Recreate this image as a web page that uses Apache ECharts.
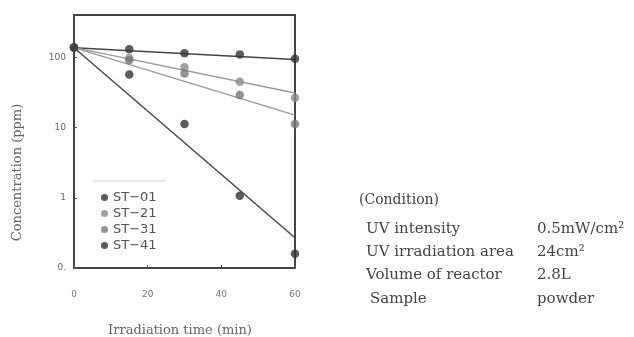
<!DOCTYPE html>
<html>
<head>
<meta charset="utf-8">
<script src="https://cdn.jsdelivr.net/npm/echarts@6/dist/echarts.min.js"></script>
<style>
  html, body { margin: 0; padding: 0; background: #fff; }
  #chart { width: 634px; height: 337px; }
</style>
</head>
<body>
<div id="chart"></div>
<script>
// measured points (ppm) at each irradiation time (min)
const times = [0, 15, 30, 45, 60];
const st01 = [138, 130, 114, 110, 95];
const st21 = [138, 98, 72, 45, 26.5];
const st31 = [138, 91, 59, 29, 11.2];
const st41 = [138, 57, 11.2, 1.07, 0.16];

// fitted lines, start and end
const fitTimes = [0, 60];
const fit01 = [137, 93];
const fit21 = [137, 31];
const fit31 = [137, 15];
const fit41 = [137, 0.27];

const seriesNames = ["ST\u221201", "ST\u221221", "ST\u221231", "ST\u221241"];

const conditionRows = [
  ["UV intensity", "0.5mW/cm\u00b2"],
  ["UV irradiation area", "24cm\u00b2"],
  ["Volume of reactor", "2.8L"],
  ["Sample", "powder"],
];

const pair = (xs, ys) => xs.map((x, i) => [x, ys[i]]);

const dotColors = ["#333", "#8a8a8a", "#777", "#333"];
const lineColors = ["#444", "#9a9a9a", "#9a9a9a", "#444"];
const measured = [st01, st21, st31, st41];
const fits = [fit01, fit21, fit31, fit41];

const chart = echarts.init(document.getElementById("chart"));

const series = [];
fits.forEach((f, i) => {
  series.push({
    type: "line",
    data: pair(fitTimes, f),
    showSymbol: false,
    silent: true,
    lineStyle: { color: lineColors[i], width: 1.4 },
    z: 2,
  });
});
measured.forEach((m, i) => {
  series.push({
    name: seriesNames[i],
    type: "scatter",
    data: pair(times, m),
    symbolSize: 8.5,
    itemStyle: { color: dotColors[i] },
    z: 3,
  });
});

// text block on the right
const graphic = [
  {
    type: "line",
    shape: { x1: 93, y1: 181, x2: 165, y2: 181 },
    style: { stroke: "#ccc", lineWidth: 1 },
  },
  {
    type: "text",
    left: 359,
    top: 193,
    style: { text: "(Condition)", font: "14px 'DejaVu Serif'", fill: "#444" },
  },
];
conditionRows.forEach((row, i) => {
  const y = [222, 245, 268, 292][i];
  graphic.push({
    type: "text",
    left: i === 3 ? 370 : 366,
    top: y,
    style: { text: row[0], font: "15px 'DejaVu Serif'", fill: "#444" },
  });
  graphic.push({
    type: "text",
    left: 537,
    top: y,
    style: { text: row[1], font: "15px 'DejaVu Serif'", fill: "#444" },
  });
});

chart.setOption({
  animation: false,
  backgroundColor: "#fff",
  grid: {
    left: 74,
    top: 15,
    width: 221,
    height: 253,
    outerBoundsMode: "none",
    containLabel: false,
    show: true,
    borderColor: "#444",
    borderWidth: 2,
  },
  legend: {
    orient: "vertical",
    left: 96,
    top: 186,
    data: seriesNames,
    icon: "circle",
    itemWidth: 7,
    itemHeight: 7,
    itemGap: 3,
    textStyle: {
      fontFamily: "DejaVu Sans",
      fontSize: 13,
      lineHeight: 13,
      color: "#555",
    },
  },
  xAxis: {
    type: "value",
    min: 0,
    max: 60,
    interval: 20,
    name: "Irradiation time (min)",
    nameLocation: "middle",
    nameGap: 56,
    nameTextStyle: {
      fontFamily: "DejaVu Serif",
      fontSize: 13,
      color: "#666",
      padding: [0, 9, 0, 0],
    },
    axisLine: { show: false },
    axisTick: { inside: true, length: 3, lineStyle: { color: "#555" } },
    splitLine: { show: false },
    axisLabel: {
      margin: 22,
      fontFamily: "DejaVu Sans",
      fontSize: 9,
      color: "#777",
    },
  },
  yAxis: {
    type: "log",
    logBase: 10,
    min: 0.1,
    max: 400,
    name: "Concentration (ppm)",
    nameLocation: "middle",
    nameGap: 50,
    nameTextStyle: {
      fontFamily: "DejaVu Serif",
      fontSize: 13,
      color: "#666",
      padding: [0, 62, 0, 0],
    },
    axisLine: { show: false },
    axisTick: { inside: true, length: 3, lineStyle: { color: "#555" } },
    splitLine: { show: false },
    minorTick: { show: false },
    axisLabel: {
      showMaxLabel: false,
      margin: 8,
      fontFamily: "DejaVu Sans",
      fontSize: 9,
      color: "#666",
      formatter: (v) => (Math.abs(v - 0.1) < 1e-6 ? "0." : String(Math.round(v))),
    },
  },
  graphic: graphic,
  series: series,
});
</script>
</body>
</html>
